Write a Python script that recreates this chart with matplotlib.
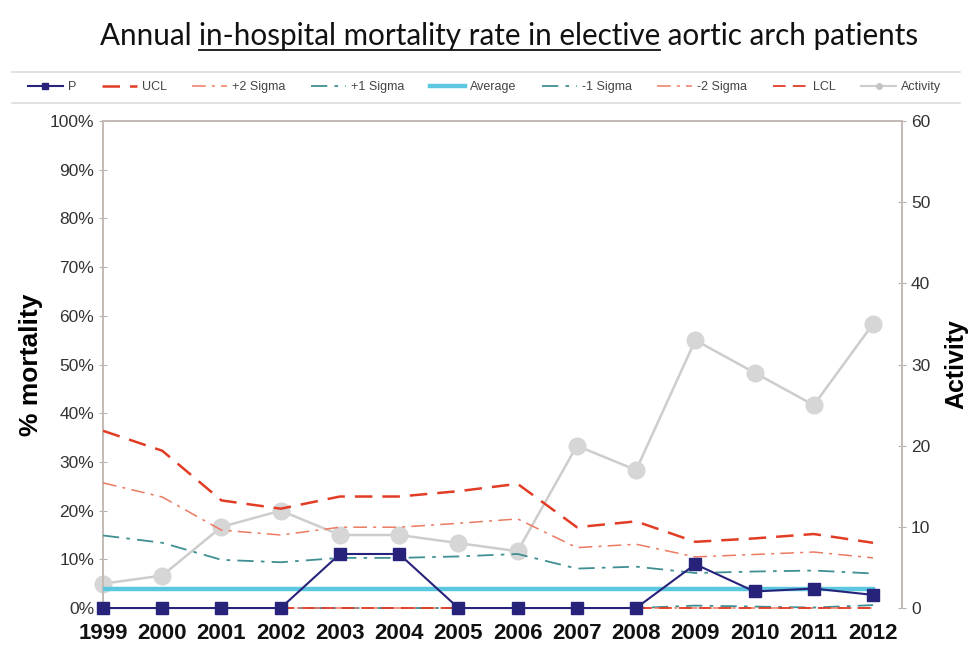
import matplotlib
matplotlib.use("Agg")
import matplotlib.pyplot as plt
from matplotlib.lines import Line2D
import numpy as np

years = ["1999", "2000", "2001", "2002", "2003", "2004", "2005", "2006",
         "2007", "2008", "2009", "2010", "2011", "2012"]
p_mort = [0, 0, 0, 0, 11.1, 11.1, 0, 0, 0, 0, 9.0, 3.4, 4.0, 2.7]
ucl = [36.4, 32.3, 22.1, 20.4, 22.9, 22.9, 24.0, 25.5, 16.6, 17.8, 13.6, 14.3, 15.2, 13.4]
plus2 = [25.7, 22.8, 16.0, 15.0, 16.6, 16.6, 17.4, 18.3, 12.4, 13.1, 10.5, 11.0, 11.5, 10.3]
plus1 = [14.9, 13.4, 9.9, 9.4, 10.3, 10.3, 10.6, 11.1, 8.1, 8.5, 7.2, 7.5, 7.7, 7.1]
average = [3.9] * 14
minus1 = [0, 0, 0, 0, 0, 0, 0, 0, 0, 0, 0.5, 0.3, 0.1, 0.6]
minus2 = [0] * 14
lcl = [0] * 14
activity = [3, 4, 10, 12, 9, 9, 8, 7, 20, 17, 33, 29, 25, 35]

fig = plt.figure(figsize=(9.72, 6.51), dpi=100)
ax = fig.add_axes([0.106, 0.066, 0.822, 0.748])
ax2 = ax.twinx()

x = np.arange(len(years))

red = "#e23c25"
salmon = "#ec7a62"
teal = "#3f8f93"
avgc = "#5cc8e0"
navy = "#27237a"
grayc = "#cdcdcd"

h_ucl, = ax.plot(x, ucl, color=red, lw=1.8, dashes=(7, 4), label="UCL", zorder=3)
h_p2, = ax.plot(x, plus2, color=salmon, lw=1.1, dashes=(9, 4, 2, 4), label="+2 Sigma", zorder=3)
h_p1, = ax.plot(x, plus1, color=teal, lw=1.3, dashes=(9, 4, 2, 4), label="+1 Sigma", zorder=3)
h_avg, = ax.plot(x, average, color=avgc, lw=3.2, label="Average", zorder=3)
h_m1, = ax.plot(x, minus1, color=teal, lw=1.3, dashes=(9, 4, 2, 4), label="-1 Sigma", zorder=3,
                clip_on=False)
h_m2, = ax.plot(x, minus2, color=salmon, lw=1.1, dashes=(9, 4, 2, 4), label="-2 Sigma", zorder=3.2,
                clip_on=False)
h_lcl, = ax.plot(x, lcl, color=red, lw=1.3, dashes=(7, 4), label="LCL", zorder=3.4, clip_on=False)

# activity on secondary axis
ax2.plot(x, activity, color=grayc, lw=1.8, marker="o", ms=12,
         markerfacecolor="#d6d6d6", markeredgecolor="#d6d6d6", zorder=2, clip_on=False)
h_p, = ax.plot(x, p_mort, color=navy, lw=1.5, marker="s", ms=9,
               markerfacecolor=navy, markeredgecolor=navy, label="P", zorder=6, clip_on=False)

ax.set_zorder(ax2.get_zorder() + 1)
ax.patch.set_visible(False)

ax.set_yticks(np.arange(0, 101, 10))
ax.set_yticklabels([f"{v}%" for v in range(0, 101, 10)])
ax2.set_yticks(np.arange(0, 61, 10))
ax.set_xticks(x)
ax.set_xticklabels(years, fontsize=16, fontweight="bold", family="Liberation Sans", color="#111111")
ax.tick_params(axis="x", length=0, pad=11)
for a in (ax, ax2):
    a.tick_params(axis="y", direction="inout", length=6, color="#b9b0ac", labelsize=12.5,
                  labelcolor="#333333")
    for lab in a.get_yticklabels():
        lab.set_family("Liberation Sans")
    for s in a.spines.values():
        s.set_color("#c4bbb7")
        s.set_linewidth(1.3)
    a.spines["bottom"].set_visible(False)

ax.set_ylabel("% mortality", fontsize=19, fontweight="bold", family="Liberation Sans", labelpad=5)
ax2.set_ylabel("Activity", fontsize=18, fontweight="bold", family="Liberation Sans", labelpad=10)

# legend
h_act = Line2D([], [], color=grayc, lw=1.5, marker="o", ms=4,
               markerfacecolor="#c4c4c4", markeredgecolor="#c4c4c4")
h_pl = Line2D([], [], color=navy, lw=1.5, marker="s", ms=5, markerfacecolor=navy)
handles = [h_pl, h_ucl, h_p2, h_p1, h_avg, h_m1, h_m2, h_lcl, h_act]
labels = ["P", "UCL", "+2 Sigma", "+1 Sigma", "Average", "-1 Sigma", "-2 Sigma", "LCL", "Activity"]
leg = fig.legend(handles, labels, loc="center", ncol=9, bbox_to_anchor=(0.017, 0.842, 0.963, 0.048),
                 mode="expand", frameon=False, handlelength=2.8, handletextpad=0.4,
                 columnspacing=1.0, prop={"family": "Liberation Sans", "size": 9})
for t in leg.get_texts():
    t.set_color("#444444")
fig.add_artist(Line2D([0.012, 0.988], [0.889, 0.889], transform=fig.transFigure,
                      color="#dddddd", lw=1.2))
fig.add_artist(Line2D([0.012, 0.988], [0.842, 0.842], transform=fig.transFigure,
                      color="#dddddd", lw=1.2))

# title with underlined middle part
parts = ["Annual ", "in-hospital mortality rate in elective", " aortic arch patients"]
tprops = dict(fontsize=21.3, family="Lato", color="#111111", va="baseline")
renderer = fig.canvas.get_renderer()
full = fig.text(0, 0, "".join(parts), **tprops)
fw = full.get_window_extent(renderer).width
full.remove()
W = fig.bbox.width
xpix = 509 - fw / 2
ybase = 0.931
for i, s in enumerate(parts):
    t = fig.text(xpix / W, ybase, s, **tprops)
    bb = t.get_window_extent(renderer)
    if i == 1:
        fig.add_artist(Line2D([bb.x0 / W, bb.x1 / W], [ybase - 0.008, ybase - 0.008],
                              transform=fig.transFigure, color="#111111", lw=1.3))
    xpix = bb.x1

ax.set_ylim(0, 100)
ax2.set_ylim(0, 60)
ax.set_xlim(0, 13.49)
ax2.set_xlim(0, 13.49)

fig.savefig("out.png", dpi=100, facecolor="white")
